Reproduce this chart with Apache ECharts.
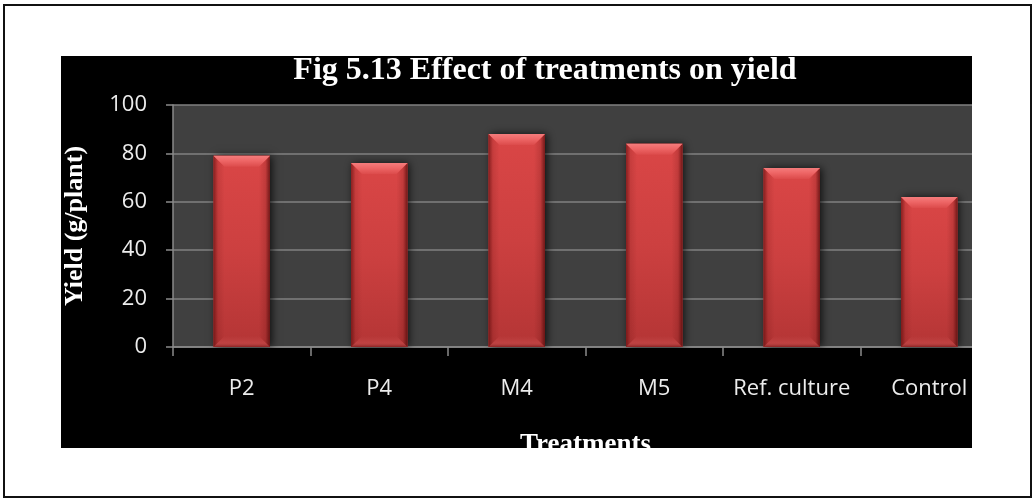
<!DOCTYPE html>
<html>
<head>
<meta charset="utf-8">
<script src="https://cdn.jsdelivr.net/npm/echarts@6/dist/echarts.min.js"></script>
<style>
  html, body { margin: 0; padding: 0; background: #ffffff; }
  body { width: 1034px; height: 499px; position: relative; overflow: hidden; }
  #frame { position: absolute; left: 3px; top: 4px; width: 1029px; height: 494px;
           border: 2px solid #111; box-sizing: border-box; }
  #clip { position: absolute; left: 61px; top: 56px; width: 911px; height: 392px;
          overflow: hidden; background: #000; }
  #chart { position: absolute; left: 0; top: 0; width: 968px; height: 420px; }
</style>
</head>
<body>
<div id="frame"></div>
<div id="clip"><div id="chart"></div></div>
<script>
// Yield per plant for each treatment
var categories = ['P2', 'P4', 'M4', 'M5', 'Ref. culture', 'Control'];
var yieldValues = [79, 76, 88, 84, 74, 62];
var yTicks = [0, 20, 40, 60, 80, 100];

var chart = echarts.init(document.getElementById('chart'), null, { renderer: 'canvas' });

function vGrad(stops) {
  return { type: 'linear', x: 0, y: 0, x2: 0, y2: 1, colorStops: stops };
}
function hGrad(stops) {
  return { type: 'linear', x: 0, y: 0, x2: 1, y2: 0, colorStops: stops };
}

// Bevelled red column drawn from the category/value scales
function renderBar(params, api) {
  var idx = api.value(0);
  var val = api.value(1);
  var top = api.coord([idx, val]);
  var base = api.coord([idx, 0]);
  var w = api.size([1, 0])[0] * 0.41;
  var x0 = top[0] - w / 2, x1 = top[0] + w / 2;
  var y0 = top[1], y1 = base[1];
  var b = Math.min(11, (y1 - y0) / 2);
  return {
    type: 'group',
    children: [
      { type: 'rect', shape: { x: x0, y: y0, width: w, height: y1 - y0 },
        style: { fill: '#b83636', shadowBlur: 8, shadowColor: 'rgba(0,0,0,0.75)', shadowOffsetX: 2 } },
      { type: 'rect', shape: { x: x0, y: y0, width: w, height: y1 - y0 },
        style: { fill: vGrad([{ offset: 0, color: '#da4646' }, { offset: 0.5, color: '#cc4040' }, { offset: 1, color: '#b43535' }]) } },
      { type: 'polygon', shape: { points: [[x0, y0], [x0 + b, y0 + b], [x0 + b, y1 - b], [x0, y1]] },
        style: { fill: hGrad([{ offset: 0, color: 'rgba(70,0,0,0.55)' }, { offset: 0.4, color: 'rgba(70,0,0,0.12)' }, { offset: 1, color: 'rgba(70,0,0,0)' }]) } },
      { type: 'polygon', shape: { points: [[x1, y0], [x1 - b, y0 + b], [x1 - b, y1 - b], [x1, y1]] },
        style: { fill: hGrad([{ offset: 0, color: 'rgba(60,0,0,0)' }, { offset: 0.6, color: 'rgba(60,0,0,0.15)' }, { offset: 1, color: 'rgba(60,0,0,0.65)' }]) } },
      { type: 'polygon', shape: { points: [[x0, y1], [x1, y1], [x1 - b, y1 - b], [x0 + b, y1 - b]] },
        style: { fill: vGrad([{ offset: 0, color: 'rgba(255,150,150,0.0)' }, { offset: 0.6, color: 'rgba(255,150,150,0.12)' }, { offset: 1, color: 'rgba(60,0,0,0.35)' }]) } },
      { type: 'polygon', shape: { points: [[x0, y0], [x1, y0], [x1 - b, y0 + b], [x0 + b, y0 + b]] },
        style: { fill: vGrad([{ offset: 0, color: '#f47c7c' }, { offset: 0.45, color: '#ee6666' }, { offset: 1, color: '#dc4b4b' }]) } }
    ]
  };
}

var labelFont = '"Open Sans", "DejaVu Sans", sans-serif';
var titleFont = '"Liberation Serif", "Times New Roman", serif';

chart.setOption({
  backgroundColor: '#000000',
  animation: false,
  title: {
    text: 'Fig 5.13 Effect of treatments on yield',
    left: 'center',
    top: -6,
    textStyle: { color: '#ffffff', fontFamily: titleFont, fontWeight: 'bold', fontSize: 32 }
  },
  grid: { left: 112, top: 49, width: 825, height: 242, outerBoundsMode: 'none', containLabel: false,
          show: true, backgroundColor: '#404040', borderWidth: 0 },
  xAxis: {
    type: 'category',
    data: categories,
    boundaryGap: true,
    name: 'Treatments',
    nameLocation: 'middle',
    nameGap: 85,
    nameTextStyle: { color: '#ffffff', fontFamily: titleFont, fontWeight: 'bold', fontSize: 27 },
    axisLine: { show: true, lineStyle: { color: '#8a8a8a', width: 1.5 } },
    axisTick: { show: true, length: 9, alignWithLabel: false, lineStyle: { color: '#8a8a8a', width: 1.5 } },
    axisLabel: { color: '#ececec', fontFamily: labelFont, fontSize: 22, margin: 31, interval: 0 },
    splitLine: { show: false }
  },
  yAxis: {
    type: 'value',
    min: yTicks[0],
    max: yTicks[yTicks.length - 1],
    interval: 20,
    name: 'Yield (g/plant)',
    nameLocation: 'middle',
    nameGap: 85,
    nameTextStyle: { color: '#ffffff', fontFamily: titleFont, fontWeight: 'bold', fontSize: 26 },
    axisLine: { show: true, lineStyle: { color: '#8a8a8a', width: 1.5 } },
    axisTick: { show: true, length: 7, lineStyle: { color: '#8a8a8a', width: 1.5 } },
    axisLabel: { color: '#ececec', fontFamily: labelFont, fontSize: 22, margin: 26 },
    splitLine: { show: true, lineStyle: { color: '#808080', width: 1.5 } }
  },
  series: [{
    type: 'custom',
    renderItem: renderBar,
    data: yieldValues.map(function (v, i) { return [i, v]; }),
    encode: { x: 0, y: 1 }
  }]
});
</script>
</body>
</html>
